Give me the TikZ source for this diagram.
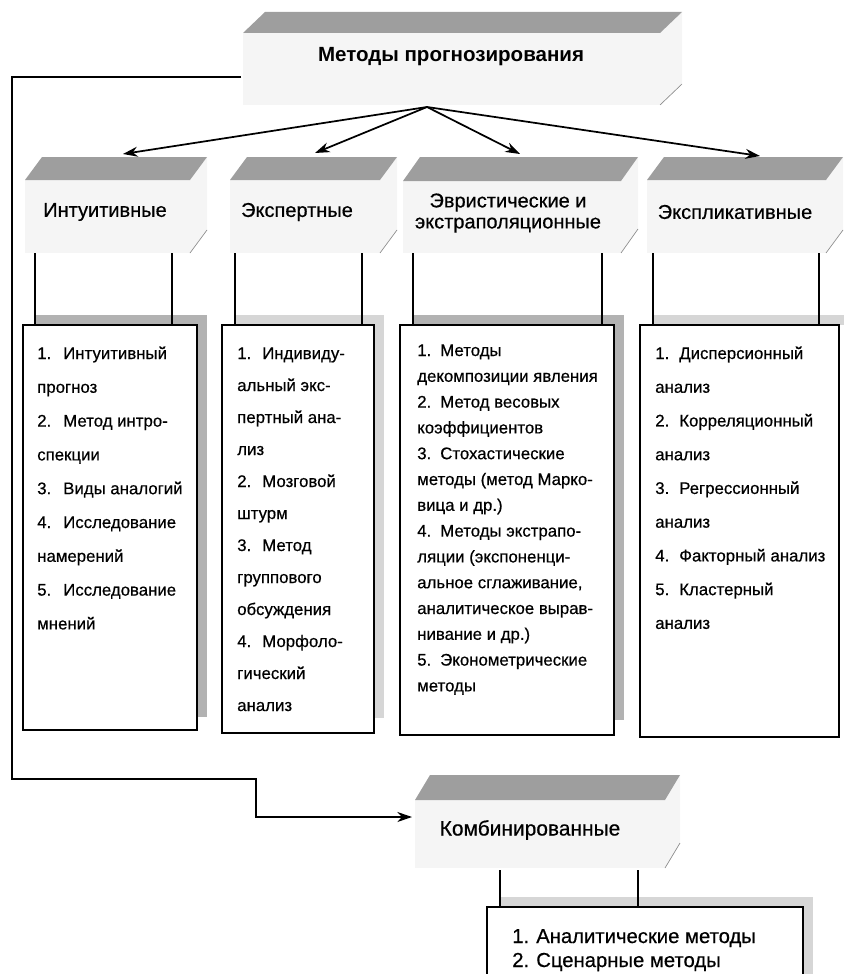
\documentclass[tikz,border=0pt]{standalone}
\usepackage{fontspec}
\setmainfont{Liberation Sans}
\newfontfamily\inkfont[FakeBold=0.5]{Liberation Sans}
\usetikzlibrary{arrows.meta,fit}

\newlength\numw
\newcommand\itm[1]{\makebox[\numw][l]{#1}}

% slab: front face, side face, shaded top face and the side edge
% #1 left x, #2 right x, #3 slant, #4 top y, #5 band bottom y, #6 front bottom y
\newcommand\drawslab[6]{%
  \fill[frontface] (#1,#5) rectangle (#2,#6);
  \fill[frontface] (#2,#5) -- (#2+#3,#4) -- (#2+#3,#6-#5+#4) -- (#2,#6) -- cycle;
  \fill[topface] (#1,#5) -- (#2,#5) -- (#2+#3,#4) -- (#1+#3,#4) -- cycle;
  \draw[sideedge] (#2,#6) -- (#2+#3,#6-#5+#4);
}

\tikzset{
  frame/.style={draw, fill=white, line width=1.2pt, inner sep=0pt},
  link/.style={line width=1.2pt},
  arrowlink/.style={line width=1.3pt, -{Stealth[length=11pt,width=7.5pt]}},
  topface/.style={fill=black!38},
  frontface/.style={fill=black!4},
  sideedge/.style={draw=black!45, line width=0.5pt},
  shadow/.style={fill=black!30},
  lightshadow/.style={fill=black!16},
  headtext/.style={inner sep=0pt, font=\inkfont\fontsize{15}{15.75}\selectfont},
  listtext/.style={inner sep=0pt, anchor=base west},
}

\begin{document}
\begin{tikzpicture}[x=0.75pt, y=-0.75pt]
\useasboundingbox (0,0) rectangle (844,974);
\clip (0,0) rectangle (844,974);

% heading slabs
\drawslab{243}{660}{22}{12}{33}{105}
\drawslab{25}{190}{17}{157}{180}{253}
\drawslab{230}{380}{17}{157}{180}{253}
\drawslab{403}{621}{17}{157}{181}{253}
\drawslab{647}{826}{17}{157}{180}{253}
\drawslab{415}{665}{15}{775}{800}{868}

% headings
\node[inner sep=0pt, font=\bfseries\fontsize{15.4}{18}\selectfont] (title) at (451,57) {Методы прогнозирования};
\node[headtext] (h1) at (105,212) {Интуитивные};
\node[headtext] (h2) at (297,212) {Экспертные};
\node[headtext, align=center] (h3) at (508,213) {Эвристические и\\экстраполяционные};
\node[headtext] (h4) at (735,212) {Экспликативные};
\node[inner sep=0pt, font=\inkfont\fontsize{15.7}{18}\selectfont] (comb) at (530,830) {Комбинированные};

% box shadows
\fill[shadow] (35,315) rectangle (207,325);
\fill[shadow] (197,315) rectangle (207,717);
\fill[lightshadow] (235,315) rectangle (384,325);
\fill[lightshadow] (374,315) rectangle (384,718);
\fill[shadow] (413,315) rectangle (624,325);
\fill[shadow] (614,315) rectangle (624,720);
\fill[lightshadow] (653,315) rectangle (844,325);
\fill[lightshadow] (500,897) rectangle (813,907);
\fill[lightshadow] (803,897) rectangle (813,974);

% method boxes
\node[frame, fit={(23,325)(197,730)}] (b1) {};
\node[frame, fit={(222,325)(374,733)}] (b2) {};
\node[frame, fit={(400,325)(614,735)}] (b3) {};
\node[frame, fit={(640,325)(839,737)}] (b4) {};
\node[frame, fit={(487,907)(803,990)}] (b5) {};

% hangers between headings and boxes
\foreach \name/\xx/\bx in {v1a/35/b1, v1b/172/b1, v2a/235/b2, v2b/362/b2,
                           v3a/413/b3, v3b/602/b3, v4a/653/b4, v4b/819/b4} {
  \coordinate (\name) at (\xx,253);
  \draw[link] (\name) -- (\name |- \bx.north);
}
\coordinate (v5a) at (500,870);
\coordinate (v5b) at (638,870);
\draw[link] (v5a) -- (v5a |- b5.north);
\draw[link] (v5b) -- (v5b |- b5.north);

% arrows from the title to the groups
\coordinate (apex) at (427,107);
\coordinate (g1) at (123,154);
\coordinate (g2) at (315,153);
\coordinate (g3) at (520,154);
\coordinate (g4) at (760,156);
\foreach \g in {g1,g2,g3,g4} \draw[arrowlink] (apex) -- (\g);

% side link to the combined methods
\coordinate (titlewest) at (241,77);
\coordinate (combwest) at (412,817);
\draw[arrowlink] (titlewest) -- (12,77) |- (256,779) |- (combwest);

% lists
\node[listtext] (l1) at (37,359) {\parbox[t]{160pt}{\raggedright\inkfont\fontsize{12.6}{25.35}\selectfont\setlength\numw{19.5pt}%
\itm{1.}Интуитивный\\
прогноз\\
\itm{2.}Метод интро-\\
спекции\\
\itm{3.}Виды аналогий\\
\itm{4.}Исследование\\
намерений\\
\itm{5.}Исследование\\
мнений}};

\node[listtext] (l2) at (237,359) {\parbox[t]{160pt}{\raggedright\inkfont\fontsize{12.6}{24}\selectfont\setlength\numw{18.75pt}%
\itm{1.}Индивиду-\\
альный экс-\\
пертный ана-\\
лиз\\
\itm{2.}Мозговой\\
штурм\\
\itm{3.}Метод\\
группового\\
обсуждения\\
\itm{4.}Морфоло-\\
гический\\
анализ}};

\node[listtext] (l3) at (417,356) {\parbox[t]{200pt}{\raggedright\inkfont\fontsize{12.6}{19.35}\selectfont\setlength\numw{17.25pt}%
\itm{1.}Методы\\
декомпозиции явления\\
\itm{2.}Метод весовых\\
коэффициентов\\
\itm{3.}Стохастические\\
методы (метод Марко-\\
вица и др.)\\
\itm{4.}Методы экстрапо-\\
ляции (экспоненци-\\
альное сглаживание,\\
аналитическое вырав-\\
нивание и др.)\\
\itm{5.}Эконометрические\\
методы}};

\node[listtext] (l4) at (655,359) {\parbox[t]{200pt}{\raggedright\inkfont\fontsize{12.6}{25.3}\selectfont\setlength\numw{18pt}%
\itm{1.}Дисперсионный\\
анализ\\
\itm{2.}Корреляционный\\
анализ\\
\itm{3.}Регрессионный\\
анализ\\
\itm{4.}Факторный анализ\\
\itm{5.}Кластерный\\
анализ}};

\node[listtext] (l5) at (512,943) {\parbox[t]{260pt}{\raggedright\inkfont\fontsize{15.2}{18}\selectfont\setlength\numw{18pt}%
\itm{1.}Аналитические методы\\
\itm{2.}Сценарные методы}};

\end{tikzpicture}
\end{document}
